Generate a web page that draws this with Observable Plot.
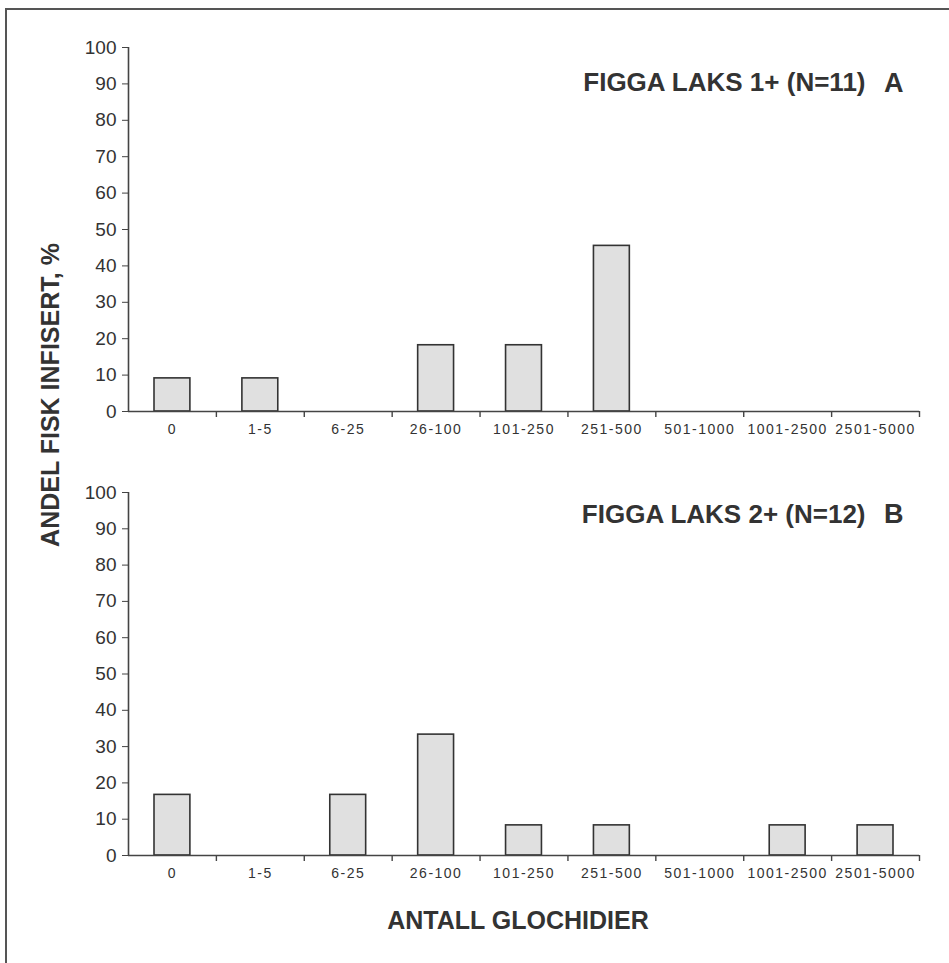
<!DOCTYPE html>
<html>
<head>
<meta charset="utf-8">
<script src="https://cdn.jsdelivr.net/npm/d3@7"></script>
<script src="https://cdn.jsdelivr.net/npm/@observablehq/plot@0.6"></script>
<style>
  body { margin: 0; background: #fff; }
  #wrap { position: relative; width: 949px; height: 963px; background: #fff; overflow: hidden;
          font-family: "Liberation Sans", Arial, Helvetica, sans-serif; color: #333; }
  .panel { position: absolute; left: 0; }
  .lab { position: absolute; font-weight: bold; font-size: 25px; white-space: nowrap; color: #333; }
  #frame { position: absolute; left: 5px; top: 8px; width: 980px; height: 990px;
           border-left: 2px solid #555; border-top: 2px solid #555; pointer-events: none; }
</style>
</head>
<body>
<div id="wrap">
  <div id="panelA" class="panel" style="top:0px"></div>
  <div id="panelB" class="panel" style="top:450px"></div>
  <div class="lab" id="ylab" style="left:50px; top:395px; transform: translate(-50%,-50%) rotate(-90deg);"></div>
  <div class="lab" id="xlab" style="left:518px; top:920px; transform: translate(-50%,-50%);"></div>
  <div id="frame"></div>
</div>
<script>
// ---- data ----
const categories = ["0", "1-5", "6-25", "26-100", "101-250", "251-500", "501-1000", "1001-2500", "2501-5000"];
const valuesA = [9.1, 9.1, 0, 18.2, 18.2, 45.5, 0, 0, 0];
const valuesB = [16.7, 0, 16.7, 33.3, 8.3, 8.3, 0, 8.3, 8.3];
const yTicks = [0, 10, 20, 30, 40, 50, 60, 70, 80, 90, 100];
const titleA = "FIGGA LAKS 1+ (N=11)";
const letterA = "A";
const titleB = "FIGGA LAKS 2+ (N=12)";
const letterB = "B";
const yLabel = "ANDEL FISK INFISERT, %";
const xLabel = "ANTALL GLOCHIDIER";

document.getElementById("ylab").textContent = yLabel;
document.getElementById("xlab").textContent = xLabel;

const W = 949, H = 450, ML = 128, MR = 30;
const bw = (W - ML - MR) / categories.length;
const FONT = '"Liberation Sans", Arial, Helvetica, sans-serif';
const INK = "#333";

function makePanel(values, title, letter, marginTop, marginBottom, titleDy) {
  const rows = categories.map((c, i) => ({cat: c, v: values[i]}));
  const svg = Plot.plot({
    width: W, height: H,
    marginLeft: ML, marginRight: MR, marginTop, marginBottom,
    style: {fontFamily: FONT, color: INK, background: "transparent", overflow: "visible"},
    x: {type: "band", domain: categories, padding: 0, round: false, label: null},
    y: {domain: [0, 100], label: null},
    marks: [
      Plot.barY(rows.filter(d => d.v > 0), {
        x: "cat", y: "v", fill: "#e0e0e0", stroke: INK, strokeWidth: 1.6,
        insetLeft: 26, insetRight: 26
      }),
      Plot.ruleY([0], {stroke: "#444", strokeWidth: 1.6}),
      Plot.ruleX([categories[0]], {x: d => d, y1: 0, y2: 100, dx: -bw / 2, stroke: "#444", strokeWidth: 1.6}),
      Plot.ruleX(categories, {x: d => d, y1: 0, y2: 0, insetBottom: -6, dx: bw / 2, stroke: "#444", strokeWidth: 1.4}),
      Plot.axisY({ticks: yTicks, tickSize: 6, tickPadding: 6, fontSize: 19, label: null, stroke: "#444"}),
      Plot.axisX({tickSize: 0, tickPadding: 13, fontSize: 14, label: null}),
      Plot.text([title], {frameAnchor: "top-right", lineAnchor: "middle", dx: -54, dy: titleDy, fontSize: 26, fontWeight: "bold", textAnchor: "end", fill: INK}),
      Plot.text([letter], {frameAnchor: "top-right", lineAnchor: "middle", dx: -16, dy: titleDy, fontSize: 27, fontWeight: "bold", textAnchor: "end", fill: INK})
    ]
  });
  svg.querySelectorAll('[aria-label="x-axis tick label"] text').forEach(t => {
    t.style.letterSpacing = "1.5px";
  });
  return svg;
}

document.getElementById("panelA").appendChild(makePanel(valuesA, titleA, letterA, 47, 39, 35.5));
document.getElementById("panelB").appendChild(makePanel(valuesB, titleB, letterB, 42, 45, 22));
</script>
</body>
</html>
